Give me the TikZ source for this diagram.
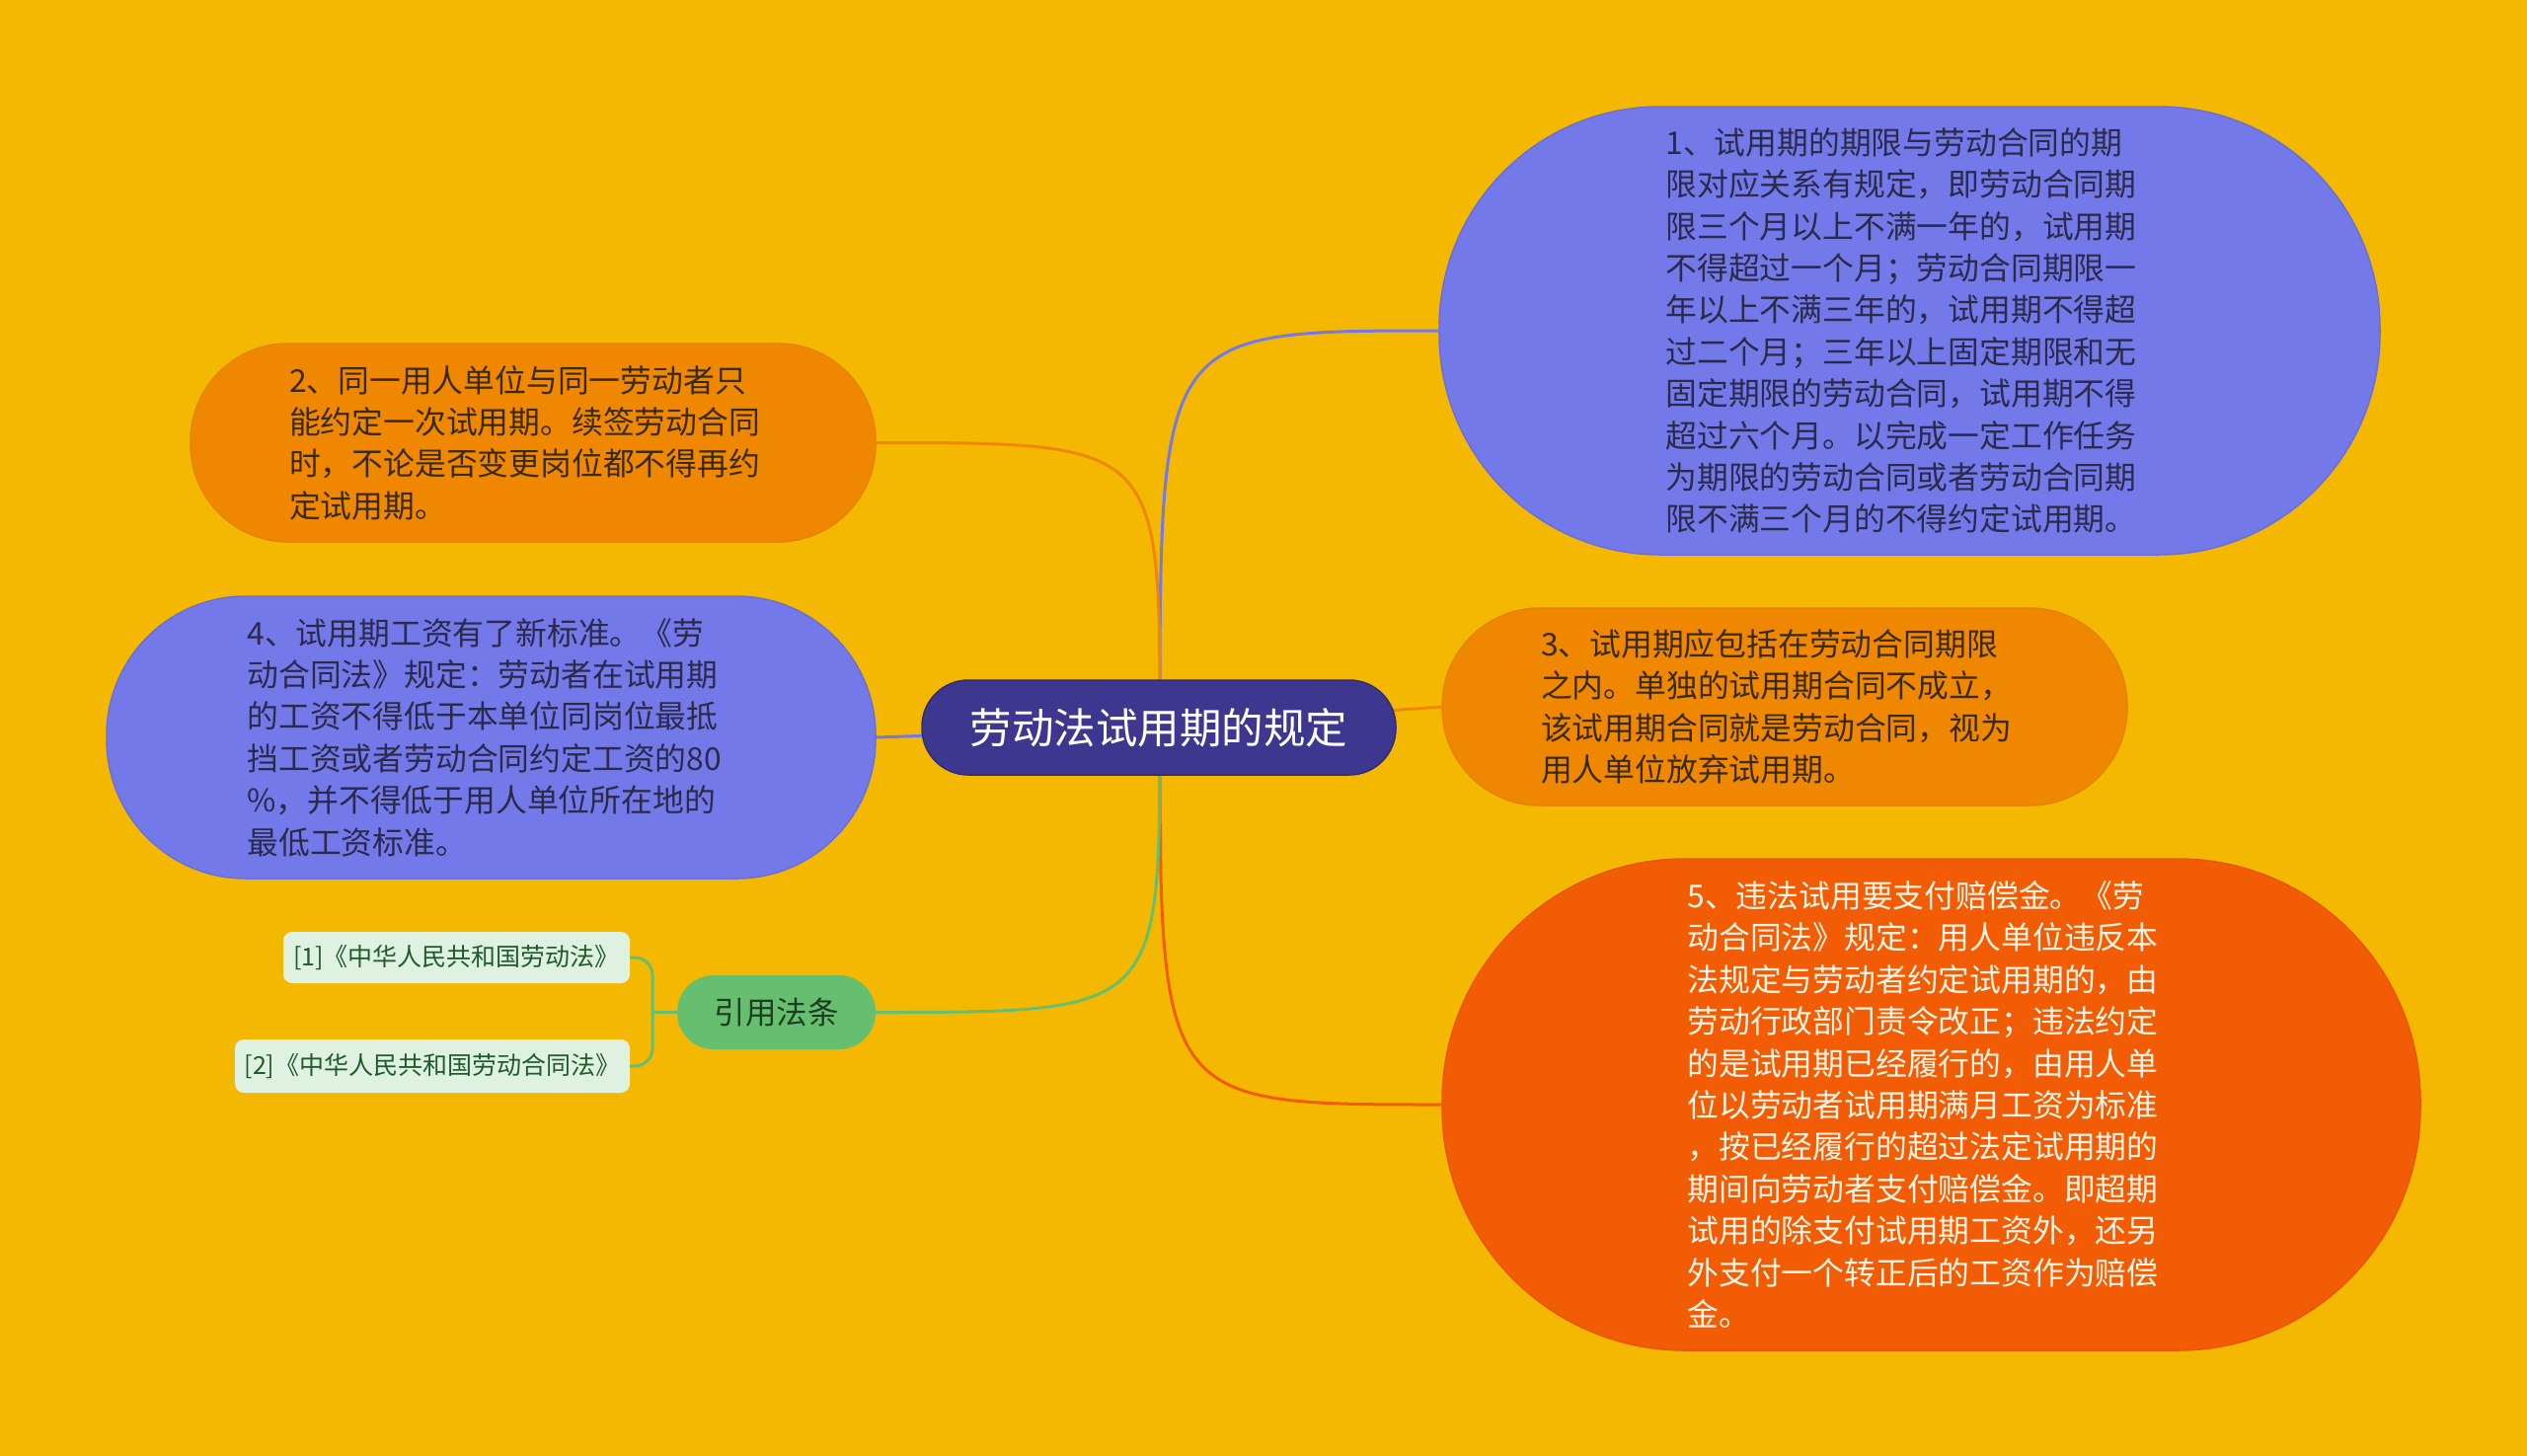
\documentclass[tikz,border=0pt]{standalone}
\usepackage{fontspec}
\setmainfont{Noto Sans CJK SC}
\usetikzlibrary{calc}
\definecolor{bg}{HTML}{F5B800}
\definecolor{bluefill}{HTML}{7479EA}
\definecolor{blueedge}{HTML}{6A6FD8}
\definecolor{orangefill}{HTML}{EF8800}
\definecolor{orangeedge}{HTML}{E58200}
\definecolor{redfill}{HTML}{F25C05}
\definecolor{rededge}{HTML}{E85604}
\definecolor{centerfill}{HTML}{3E378F}
\definecolor{greenfill}{HTML}{66BF6E}
\definecolor{reffill}{HTML}{DFF1E1}
\definecolor{reftext}{HTML}{1E5A2A}
\definecolor{darkblue}{HTML}{2A2A4A}
\definecolor{darkbrown}{HTML}{3A2A0C}
\definecolor{cream}{HTML}{FFF4E4}
\definecolor{greentext}{HTML}{1F3D22}
\begin{document}
\begin{tikzpicture}[x=1pt,y=-1pt,
  bodytext/.style={align=left, text width=494pt, inner sep=0pt, font=\fontsize{31.8}{42.4}\selectfont},
  bluebox/.style={bodytext, fill=bluefill, draw=blueedge, line width=1.5pt, text=darkblue},
  orangebox/.style={bodytext, fill=orangefill, draw=orangeedge, line width=1.5pt, text=darkbrown},
  redbox/.style={bodytext, fill=redfill, draw=rededge, line width=1.5pt, text=cream},
  refbox/.style={fill=reffill, rounded corners=9pt, inner sep=0pt, text=reftext, font=\fontsize{25}{30}\selectfont},
  link/.style={line width=3pt}
]
\fill[bg] (0,0) rectangle (2560,1475);
\useasboundingbox (0,0) rectangle (2560,1475);

% nodes
\node[bluebox, rounded corners=224pt, minimum width=953pt, minimum height=454pt] (n1) at (1934.5,335) {%
1、试用期的期限与劳动合同的期\\
限对应关系有规定，即劳动合同期\\
限三个月以上不满一年的，试用期\\
不得超过一个月；劳动合同期限一\\
年以上不满三年的，试用期不得超\\
过二个月；三年以上固定期限和无\\
固定期限的劳动合同，试用期不得\\
超过六个月。以完成一定工作任务\\
为期限的劳动合同或者劳动合同期\\
限不满三个月的不得约定试用期。};

\node[orangebox, rounded corners=99pt, minimum width=694pt, minimum height=201pt] (n2) at (540,448.5) {%
2、同一用人单位与同一劳动者只\\
能约定一次试用期。续签劳动合同\\
时，不论是否变更岗位都不得再约\\
定试用期。};

\node[bluebox, rounded corners=141pt, minimum width=779pt, minimum height=286pt] (n4) at (497.5,747) {%
4、试用期工资有了新标准。《劳\\
动合同法》规定：劳动者在试用期\\
的工资不得低于本单位同岗位最抵\\
挡工资或者劳动合同约定工资的80\\
\%，并不得低于用人单位所在地的\\
最低工资标准。};

\node[orangebox, rounded corners=99pt, minimum width=694pt, minimum height=200pt] (n3) at (1808,716) {%
3、试用期应包括在劳动合同期限\\
之内。单独的试用期合同不成立，\\
该试用期合同就是劳动合同，视为\\
用人单位放弃试用期。};

\node[redbox, rounded corners=246pt, minimum width=991pt, minimum height=498pt] (n5) at (1956.5,1119) {%
5、违法试用要支付赔偿金。《劳\\
动合同法》规定：用人单位违反本\\
法规定与劳动者约定试用期的，由\\
劳动行政部门责令改正；违法约定\\
的是试用期已经履行的，由用人单\\
位以劳动者试用期满月工资为标准\\
，按已经履行的超过法定试用期的\\
期间向劳动者支付赔偿金。即超期\\
试用的除支付试用期工资外，还另\\
外支付一个转正后的工资作为赔偿\\
金。};

\node[fill=greenfill, rounded corners=37pt, minimum width=201pt, minimum height=75pt, inner sep=0pt, text=greentext, font=\fontsize{31.5}{40}\selectfont] (g) at (786.5,1025.5) {引用法条};

\node[refbox, minimum width=351pt, minimum height=52pt] (r1) at (462.5,970) {[1]《中华人民共和国劳动法》};
\node[refbox, minimum width=400pt, minimum height=54pt] (r2) at (438,1080) {[2]《中华人民共和国劳动合同法》};

\coordinate (c0) at (1175,737);
\coordinate (bj) at (661,1025.5);

% connectors
\draw[link, draw=bluefill] (c0) .. controls (c0 |- n1.west) .. (n1.west);
\draw[link, draw=orangefill] (c0) .. controls (c0 |- n2.east) .. (n2.east);
\draw[link, draw=bluefill] (c0) .. controls ($(c0)!0.5!(n4.east)$) .. (n4.east);
\draw[link, draw=orangefill] (c0) .. controls ($(c0)!0.5!(n3.west)$) .. (n3.west);
\draw[link, draw=redfill] (c0) .. controls (c0 |- n5.west) .. (n5.west);
\draw[link, draw=greenfill] (c0) .. controls (c0 |- g.east) .. (g.east);
\draw[link, draw=greenfill] (g.west) -- (bj);
\draw[link, draw=greenfill, rounded corners=18pt] (bj) |- (r1.east);
\draw[link, draw=greenfill, rounded corners=18pt] (bj) |- (r2.east);

% central node on top
\node[fill=centerfill, draw=centerfill!80!black, line width=1.5pt, rounded corners=47pt, minimum width=480pt, minimum height=96pt, inner sep=0pt, text=white, font=\fontsize{42.5}{48}\selectfont] (c) at (1174,737) {劳动法试用期的规定};
\end{tikzpicture}
\end{document}
